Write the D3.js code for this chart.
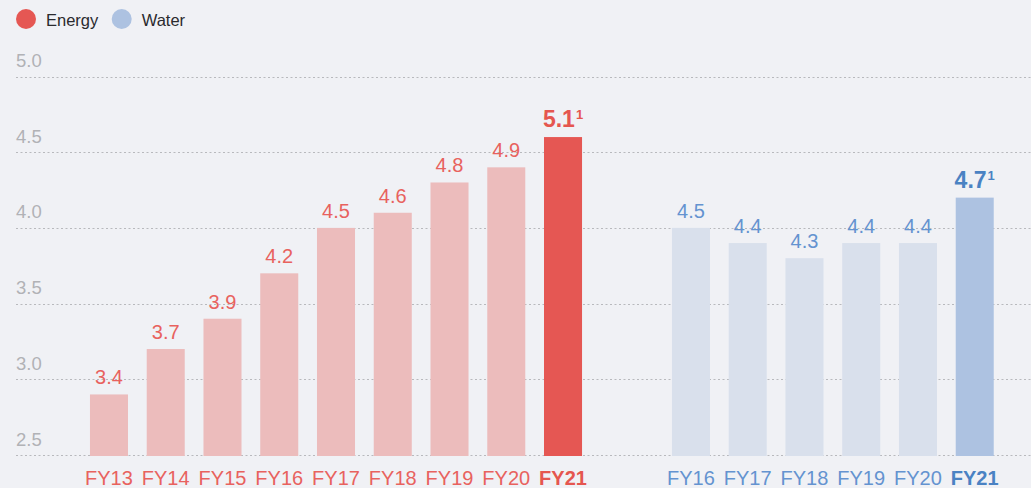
<!DOCTYPE html>
<html>
<head>
<meta charset="utf-8">
<script src="https://cdn.jsdelivr.net/npm/d3@7"></script>
<style>
  html, body { margin: 0; padding: 0; background: #f0f1f5; }
  svg { display: block; font-family: "Liberation Sans", Arial, Helvetica, sans-serif; }
</style>
</head>
<body>
<svg id="chart" width="1031" height="488"></svg>
<script>
// chart data
const energyYears = ['FY13', 'FY14', 'FY15', 'FY16', 'FY17', 'FY18', 'FY19', 'FY20', 'FY21']
const energyValues = [3.4, 3.7, 3.9, 4.2, 4.5, 4.6, 4.8, 4.9, 5.1]
const waterYears = ['FY16', 'FY17', 'FY18', 'FY19', 'FY20', 'FY21']
const waterValues = [4.5, 4.4, 4.3, 4.4, 4.4, 4.7]
const gridValues = [3.0, 3.5, 4.0, 4.5, 5.0, 5.5]
const tickLabels = ['2.5', '3.0', '3.5', '4.0', '4.5', '5.0']
const legendItems = ['Energy', 'Water']

let svg = d3.select('#chart'),
    width = +svg.attr('width'),
    height = +svg.attr('height')

let y = d3.scaleLinear().domain([3.0, 5.5]).range([455, 76.5])

let xEnergy = d3.scaleBand()
    .domain(energyYears)
    .range([80.6, 591.4])
    .paddingInner(0.33)
    .paddingOuter(0.165)

let xWater = d3.scaleBand()
    .domain(waterYears)
    .range([662.6, 1003.1])
    .paddingInner(0.33)
    .paddingOuter(0.165)

const colors = {
    Energy: { light: '#ecbcbc', main: '#e55753', text: '#e8625e', bold: '#e5564f' },
    Water: { light: '#d9e0ec', main: '#adc2e1', text: '#6493d0', bold: '#4a82c3' }
}

// Grid lines + y labels
let grid = svg.append('g')
grid.selectAll('line')
    .data(gridValues)
    .enter().append('line')
    .attr('x1', 16)
    .attr('x2', width)
    .attr('y1', function (d) { return Math.round(y(d)) + 0.5 })
    .attr('y2', function (d) { return Math.round(y(d)) + 0.5 })
    .attr('stroke', '#b8b9bd')
    .attr('stroke-width', 1)
    .attr('stroke-dasharray', '2,2.5')

grid.selectAll('text')
    .data(gridValues)
    .enter().append('text')
    .attr('x', 16)
    .attr('y', function (d) { return y(d) - 9.5 })
    .attr('fill', '#b1b2b6')
    .style('font-size', '18.5px')
    .text(function (d, i) { return tickLabels[i] })

// Bars for one series
function drawSeries(name, years, values, x) {
    let c = colors[name],
        last = years.length - 1,
        g = svg.append('g')

    g.selectAll('rect')
        .data(values)
        .enter().append('rect')
        .attr('x', function (d, i) { return x(years[i]) })
        .attr('width', x.bandwidth())
        .attr('y', function (d) { return y(d) })
        .attr('height', function (d) { return y(3.0) - y(d) + 1 })
        .attr('fill', function (d, i) { return i === last ? c.main : c.light })

    // value labels
    let labels = g.selectAll('text.value')
        .data(values)
        .enter().append('text')
        .attr('class', 'value')
        .attr('x', function (d, i) { return x(years[i]) + x.bandwidth() / 2 })
        .attr('y', function (d) { return y(d) - 10 })
        .attr('text-anchor', 'middle')
        .attr('fill', function (d, i) { return i === last ? c.bold : c.text })
        .style('font-size', function (d, i) { return i === last ? '23px' : '20px' })
        .style('font-weight', function (d, i) { return i === last ? 'bold' : 'normal' })

    labels.append('tspan').text(function (d) { return d.toFixed(1) })
    labels.filter(function (d, i) { return i === last })
        .append('tspan')
        .attr('dy', -8)
        .attr('dx', 1)
        .style('font-size', '13px')
        .text('1')

    // year labels
    g.selectAll('text.year')
        .data(years)
        .enter().append('text')
        .attr('class', 'year')
        .attr('x', function (d) { return x(d) + x.bandwidth() / 2 })
        .attr('y', 485)
        .attr('text-anchor', 'middle')
        .attr('fill', function (d, i) { return i === last ? c.bold : c.text })
        .style('font-size', '20px')
        .style('font-weight', function (d, i) { return i === last ? 'bold' : 'normal' })
        .text(function (d) { return d })
}

drawSeries('Energy', energyYears, energyValues, xEnergy)
drawSeries('Water', waterYears, waterValues, xWater)

// Legend
let legendX = [26, 121.7]
let legend = svg.append('g')
    .selectAll('g')
    .data(legendItems)
    .enter().append('g')
    .attr('transform', function (d, i) { return 'translate(' + legendX[i] + ',19)' })

legend.append('circle')
    .attr('r', 10)
    .attr('fill', function (d) { return colors[d].main })

legend.append('text')
    .attr('x', 20)
    .attr('y', 7)
    .attr('fill', '#2a2a2e')
    .style('font-size', '16.5px')
    .text(function (d) { return d })
</script>
</body>
</html>
